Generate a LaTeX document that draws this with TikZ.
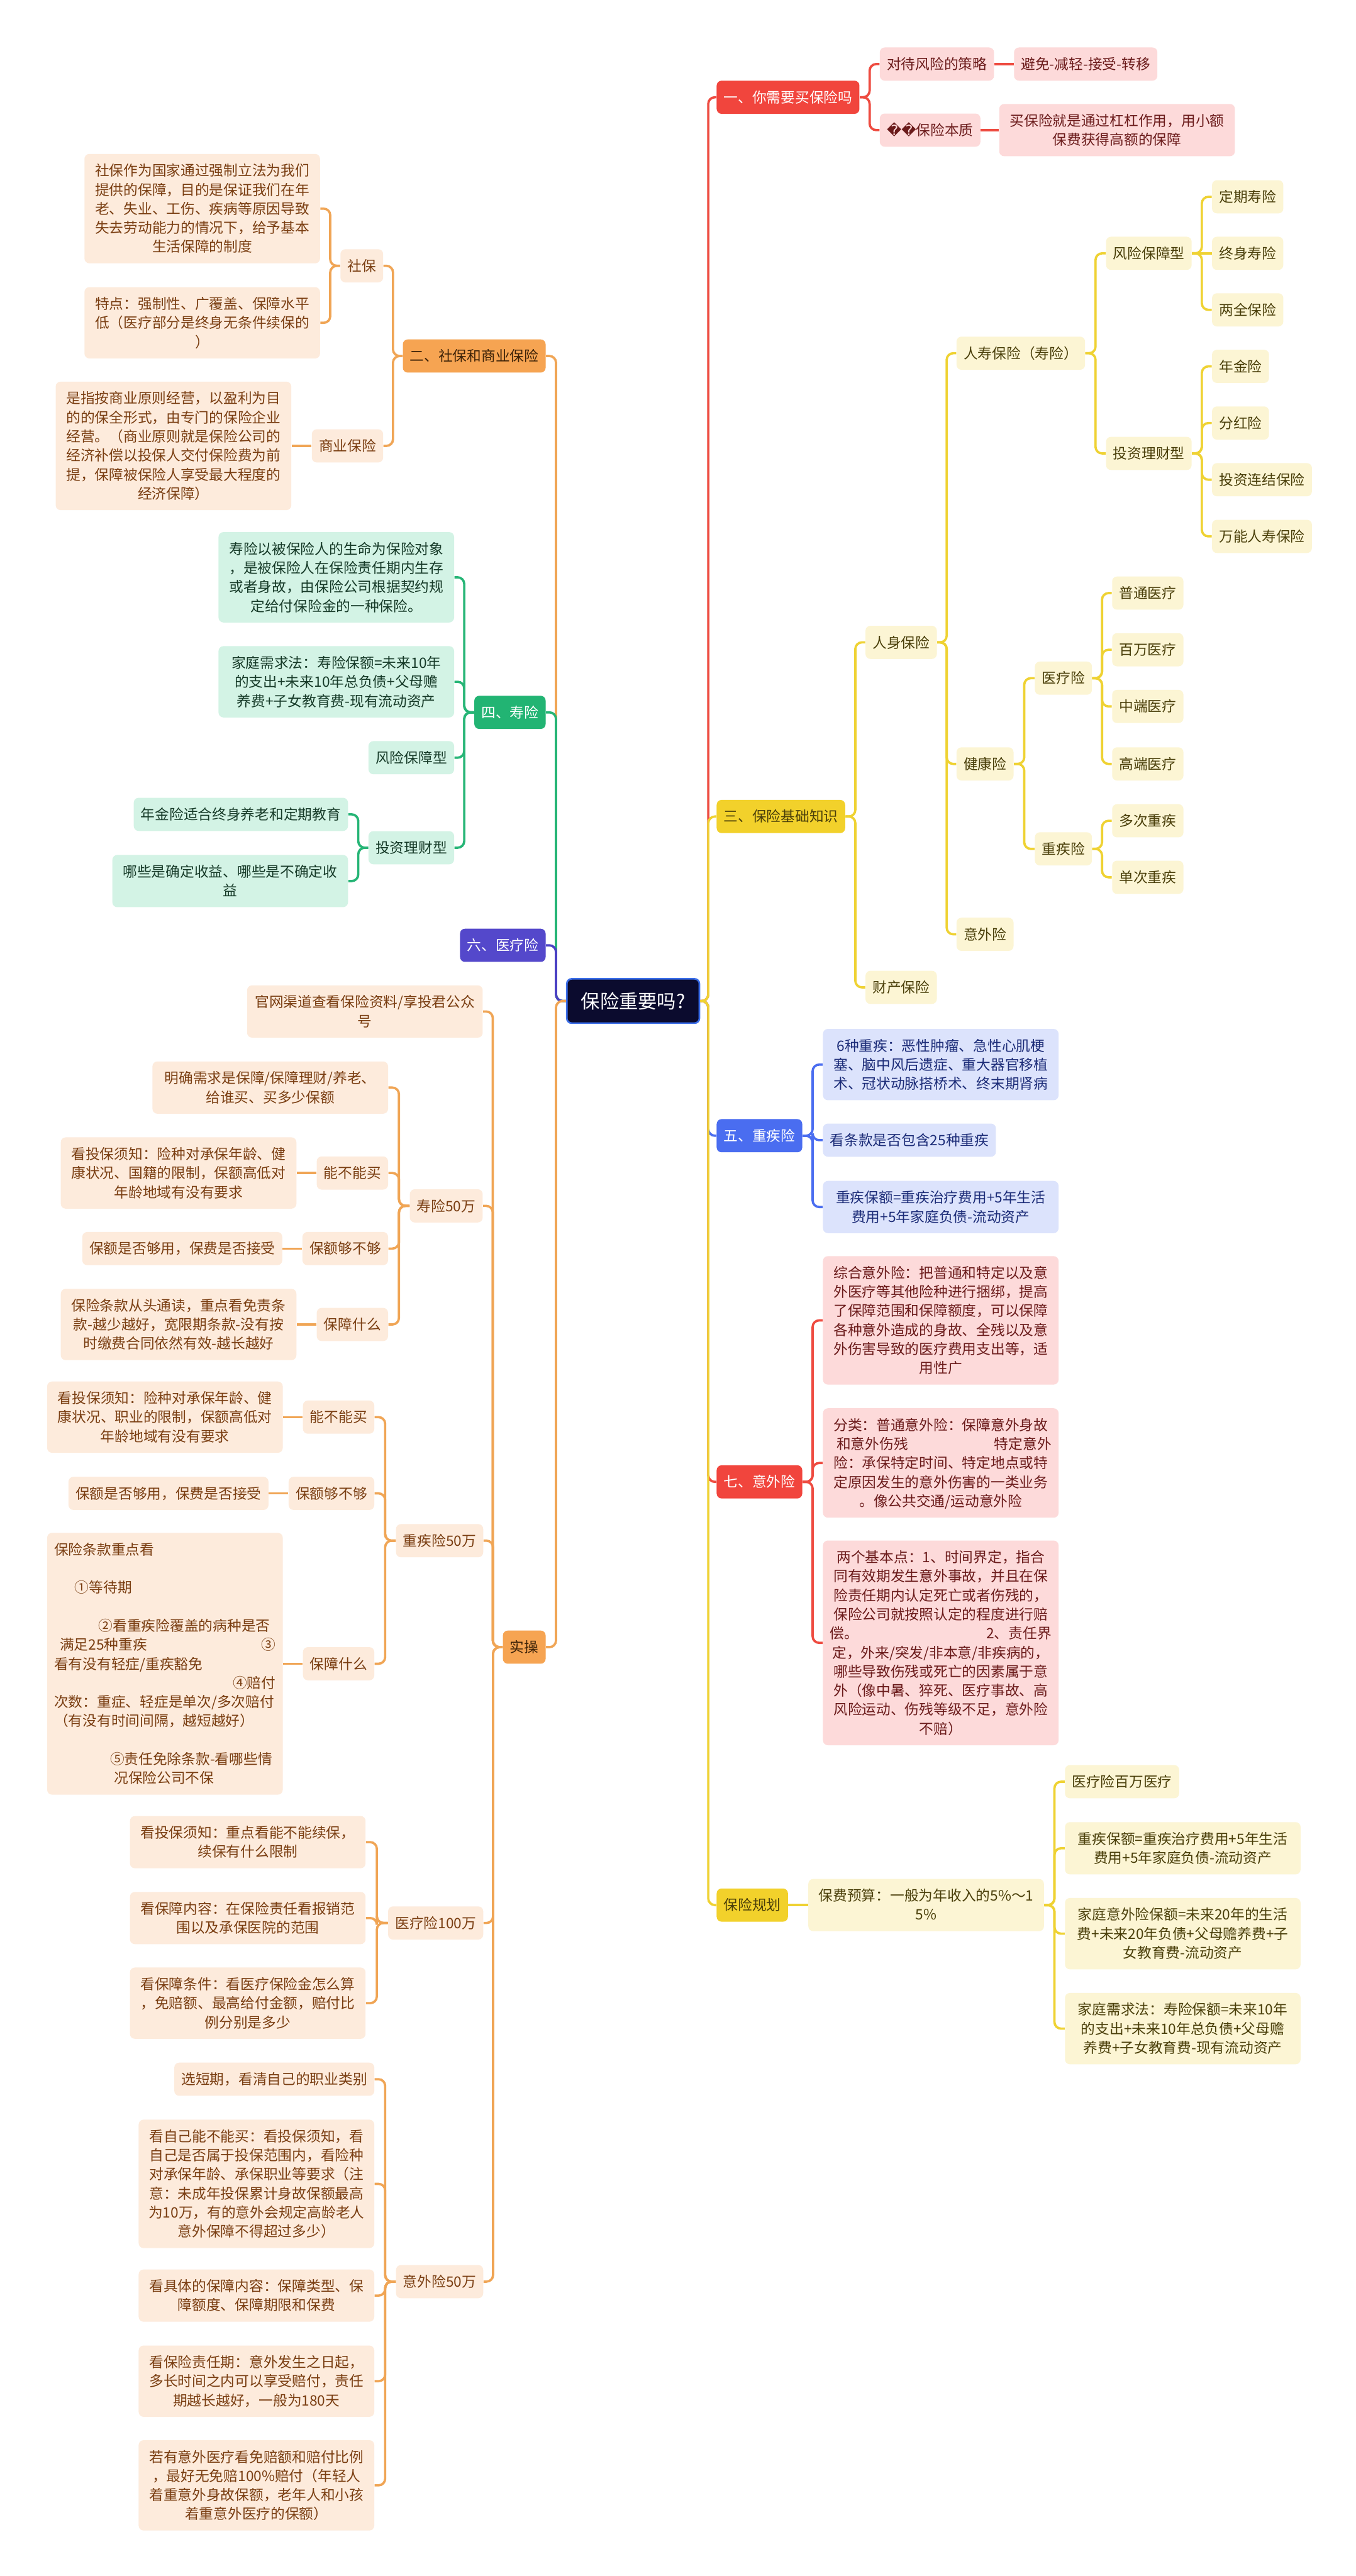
\documentclass[tikz,border=0pt]{standalone}
\usepackage{fontspec}
\setmainfont{Noto Sans CJK SC}
\newfontfamily\dejavu{DejaVu Sans}
\usetikzlibrary{calc}
\definecolor{redF}{HTML}{F1453D}
\definecolor{redL}{HTML}{EE4B40}
\definecolor{redLt}{HTML}{FDDADA}
\definecolor{redT}{HTML}{6B1B1B}
\definecolor{orgF}{HTML}{F6A452}
\definecolor{orgL}{HTML}{F0A555}
\definecolor{orgLt}{HTML}{FDEBDC}
\definecolor{orgT}{HTML}{7A3E12}
\definecolor{orgMT}{HTML}{3E2308}
\definecolor{yelF}{HTML}{F2D12B}
\definecolor{yelL}{HTML}{EFD233}
\definecolor{yelLt}{HTML}{FCF5D4}
\definecolor{yelT}{HTML}{4A3F0A}
\definecolor{grnF}{HTML}{22B473}
\definecolor{grnL}{HTML}{26B576}
\definecolor{grnLt}{HTML}{D3F3E5}
\definecolor{grnT}{HTML}{163A28}
\definecolor{bluF}{HTML}{4A6DF0}
\definecolor{bluL}{HTML}{4A6DF0}
\definecolor{bluLt}{HTML}{DCE3FC}
\definecolor{bluT}{HTML}{1C2C78}
\definecolor{purF}{HTML}{5448CB}
\definecolor{purL}{HTML}{4A40C4}
\definecolor{rootF}{HTML}{0B0B2E}
\definecolor{rootB}{HTML}{3A6DE8}
\newcommand\mystrut{\rule[-2.5pt]{0pt}{11.6pt}}
\newcommand\myR[3]{\draw[#3] let \p1=(#1.east), \p2=(#2.west) in (\p1) -- ({(\x1+\x2)/2},\y1) |- (\p2);}
\newcommand\myL[3]{\draw[#3] let \p1=(#1.west), \p2=(#2.east) in (\p1) -- ({(\x1+\x2)/2},\y1) |- (\p2);}
\newcommand\mySR[3]{\draw[#3] (#1.east) -- (#2.west);}
\newcommand\mySL[3]{\draw[#3] (#1.west) -- (#2.east);}
\tikzset{
 box/.style={rounded corners=3pt, inner xsep=4.3pt, inner ysep=4.3pt,
   font=\fontsize{8.7}{11.6}\selectfont, execute at begin node=\mystrut,
   execute at end node=\mystrut, align=center},
 wide/.style={text width=134.8pt},
 red1/.style={box, fill=redF, text=white},
 red2/.style={box, fill=redLt, text=redT},
 org1/.style={box, fill=orgF, text=orgMT},
 org2/.style={box, fill=orgLt, text=orgT},
 yel1/.style={box, fill=yelF, text=yelT},
 yel2/.style={box, fill=yelLt, text=yelT},
 grn1/.style={box, fill=grnF, text=white},
 grn2/.style={box, fill=grnLt, text=grnT},
 blu1/.style={box, fill=bluF, text=white},
 blu2/.style={box, fill=bluLt, text=bluT},
 pur1/.style={box, fill=purF, text=white},
 root/.style={rounded corners=3pt, fill=rootF, draw=rootB, line width=1pt, text=white,
   minimum width=80.7pt, minimum height=27pt, inner sep=2pt, font=\fontsize{11.6}{14}\selectfont},
 cn/.style={line width=1.4pt, rounded corners=4pt},
 lred/.style={cn, draw=redL}, lorg/.style={cn, draw=orgL}, lyel/.style={cn, draw=yelL},
 lgrn/.style={cn, draw=grnL}, lblu/.style={cn, draw=bluL}, lpur/.style={cn, draw=purL},
}
\begin{document}
\begin{tikzpicture}[x=1pt,y=-1pt]
\fill[white] (0,0) rectangle (825,1568);
\useasboundingbox (0,0) rectangle (825,1568);

\node[root] (root) at (385.35,609.3) {保险重要吗?};

% ---------- right: 一
\node[red1,anchor=west] (n1) at (436,59.2) {一、你需要买保险吗};
\node[red2,anchor=west] (n1a) at (535.3,39) {对待风险的策略};
\node[red2,anchor=west] (n1a1) at (617,39) {避免-减轻-接受-转移};
\node[red2,anchor=west] (n1b) at (535.3,79.2) {{\dejavu ^^^^fffd^^^^fffd}保险本质};
\node[red2,wide,anchor=west] (n1b1) at (608,79.2) {买保险就是通过杠杠作用，用小额\\保费获得高额的保障};

% ---------- right: 三
\node[yel1,anchor=west] (n3) at (436,497) {三、保险基础知识};
\node[yel2,anchor=west] (rs) at (526.6,391) {人身保险};
\node[yel2,anchor=west] (cc) at (526.6,601) {财产保险};
\node[yel2,anchor=west] (rsb) at (582,215) {人寿保险（寿险）};
\node[yel2,anchor=west] (jk) at (582,465) {健康险};
\node[yel2,anchor=west] (yw) at (582,568.7) {意外险};
\node[yel2,anchor=west] (fx) at (673,154.2) {风险保障型};
\node[yel2,anchor=west] (tz) at (673,276) {投资理财型};
\node[yel2,anchor=west] (dq) at (737.5,119.8) {定期寿险};
\node[yel2,anchor=west] (zs) at (737.5,154.2) {终身寿险};
\node[yel2,anchor=west] (lq) at (737.5,188.6) {两全保险};
\node[yel2,anchor=west] (nj) at (737.5,223) {年金险};
\node[yel2,anchor=west] (fh) at (737.5,257.5) {分红险};
\node[yel2,anchor=west] (tl) at (737.5,292) {投资连结保险};
\node[yel2,anchor=west] (wn) at (737.5,326.5) {万能人寿保险};
\node[yel2,anchor=west] (yl) at (629.7,412.8) {医疗险};
\node[yel2,anchor=west] (zj) at (629.7,516.7) {重疾险};
\node[yel2,anchor=west] (pt) at (676.7,361) {普通医疗};
\node[yel2,anchor=west] (bw) at (676.7,395.5) {百万医疗};
\node[yel2,anchor=west] (zd) at (676.7,430) {中端医疗};
\node[yel2,anchor=west] (gd) at (676.7,465) {高端医疗};
\node[yel2,anchor=west] (dc) at (676.7,499.6) {多次重疾};
\node[yel2,anchor=west] (dcz) at (676.7,534) {单次重疾};

% ---------- right: 五
\node[blu1,anchor=west] (n5) at (436,691.3) {五、重疾险};
\node[blu2,wide,anchor=west] (n5a) at (500.7,648) {6种重疾：恶性肿瘤、急性心肌梗\\塞、脑中风后遗症、重大器官移植\\术、冠状动脉搭桥术、终末期肾病};
\node[blu2,anchor=west] (n5b) at (500.7,694) {看条款是否包含25种重疾};
\node[blu2,wide,anchor=west] (n5c) at (500.7,734.7) {重疾保额=重疾治疗费用+5年生活\\费用+5年家庭负债-流动资产};

% ---------- right: 七
\node[red1,anchor=west] (n7) at (436,902) {七、意外险};
\node[red2,wide,anchor=west] (n7a) at (500.7,803.7) {综合意外险：把普通和特定以及意\\外医疗等其他险种进行捆绑，提高\\了保障范围和保障额度，可以保障\\各种意外造成的身故、全残以及意\\外伤害导致的医疗费用支出等，适\\用性广};
\node[red2,wide,anchor=west] (n7b) at (500.7,890.5) {分类：普通意外险：保障意外身故\\\hspace*{4pt}和意外伤残\hfill 特定意外\\险：承保特定时间、特定地点或特\\定原因发生的意外伤害的一类业务\\。像公共交通/运动意外险};
\node[red2,wide,anchor=west] (n7c) at (500.7,1000) {两个基本点：1、时间界定，指合\\同有效期发生意外事故，并且在保\\险责任期内认定死亡或者伤残的，\\保险公司就按照认定的程度进行赔\\偿。\hfill 2、责任界\\定，外来/突发/非本意/非疾病的，\\哪些导致伤残或死亡的因素属于意\\外（像中暑、猝死、医疗事故、高\\风险运动、伤残等级不足，意外险\\不赔）};

% ---------- right: 保险规划
\node[yel1,anchor=west] (gh) at (436,1159.6) {保险规划};
\node[yel2,wide,anchor=west] (ys) at (491.8,1159.6) {保费预算：一般为年收入的5\%～1\\5\%};
\node[yel2,anchor=west] (g1) at (648,1084.5) {医疗险百万医疗};
\node[yel2,wide,anchor=west] (g2) at (648,1125) {重疾保额=重疾治疗费用+5年生活\\费用+5年家庭负债-流动资产};
\node[yel2,wide,anchor=west] (g3) at (648,1177) {家庭意外险保额=未来20年的生活\\费+未来20年负债+父母赡养费+子\\女教育费-流动资产};
\node[yel2,wide,anchor=west] (g4) at (648,1234.8) {家庭需求法：寿险保额=未来10年\\的支出+未来10年总负债+父母赡\\养费+子女教育费-现有流动资产};

% ---------- left: 二
\node[org1,anchor=east] (n2) at (332.3,216.7) {二、社保和商业保险};
\node[org2,anchor=east] (sb) at (233.4,161.8) {社保};
\node[org2,anchor=east] (sy) at (233.4,271.4) {商业保险};
\node[org2,wide,anchor=east] (sbt) at (195,127) {社保作为国家通过强制立法为我们\\提供的保障，目的是保证我们在年\\老、失业、工伤、疾病等原因导致\\失去劳动能力的情况下，给予基本\\生活保障的制度};
\node[org2,wide,anchor=east] (tdt) at (195,196.5) {特点：强制性、广覆盖、保障水平\\低（医疗部分是终身无条件续保的\\）};
\node[org2,wide,anchor=east] (syt) at (177.5,271.4) {是指按商业原则经营，以盈利为目\\的的保全形式，由专门的保险企业\\经营。（商业原则就是保险公司的\\经济补偿以投保人交付保险费为前\\提，保障被保险人享受最大程度的\\经济保障）};

% ---------- left: 四
\node[grn1,anchor=east] (n4) at (332.3,433.6) {四、寿险};
\node[grn2,wide,anchor=east] (s1) at (276.6,351.4) {寿险以被保险人的生命为保险对象\\，是被保险人在保险责任期内生存\\或者身故，由保险公司根据契约规\\定给付保险金的一种保险。};
\node[grn2,wide,anchor=east] (s2) at (276.6,415) {家庭需求法：寿险保额=未来10年\\的支出+未来10年总负债+父母赡\\养费+子女教育费-现有流动资产};
\node[grn2,anchor=east] (s3) at (276.6,461.2) {风险保障型};
\node[grn2,anchor=east] (s4) at (276.6,516) {投资理财型};
\node[grn2,anchor=east] (s4a) at (212,495.7) {年金险适合终身养老和定期教育};
\node[grn2,wide,anchor=east] (s4b) at (212,536.3) {哪些是确定收益、哪些是不确定收\\益};

% ---------- left: 六
\node[pur1,anchor=east] (n6) at (332.3,575.4) {六、医疗险};

% ---------- left: 实操
\node[org1,anchor=east] (sc) at (332.3,1002.6) {实操};
\node[org2,wide,anchor=east] (c0) at (294,615.7) {官网渠道查看保险资料/享投君公众\\号};
\node[org2,anchor=east] (c1) at (294,734) {寿险50万};
\node[org2,wide,anchor=east] (c1a) at (236.4,662) {明确需求是保障/保障理财/养老、\\给谁买、买多少保额};
\node[org2,anchor=east] (c1b) at (236.4,714) {能不能买};
\node[org2,wide,anchor=east] (c1b1) at (180.6,714) {看投保须知：险种对承保年龄、健\\康状况、国籍的限制，保额高低对\\年龄地域有没有要求};
\node[org2,anchor=east] (c1c) at (236.4,760) {保额够不够};
\node[org2,anchor=east] (c1c1) at (172,760) {保额是否够用，保费是否接受};
\node[org2,anchor=east] (c1d) at (236.4,806.2) {保障什么};
\node[org2,wide,anchor=east] (c1d1) at (180.6,806.2) {保险条款从头通读，重点看免责条\\款-越少越好，宽限期条款-没有按\\时缴费合同依然有效-越长越好};
\node[org2,anchor=east] (c2) at (294.3,937.8) {重疾险50万};
\node[org2,anchor=east] (c2a) at (228,862.6) {能不能买};
\node[org2,wide,anchor=east] (c2a1) at (172.3,862.6) {看投保须知：险种对承保年龄、健\\康状况、职业的限制，保额高低对\\年龄地域有没有要求};
\node[org2,anchor=east] (c2b) at (228,909) {保额够不够};
\node[org2,anchor=east] (c2b1) at (163.6,909) {保额是否够用，保费是否接受};
\node[org2,anchor=east] (c2c) at (228,1012.7) {保障什么};
\node[org2,wide,align=left,anchor=east] (c2c1) at (172.3,1012.7) {保险条款重点看\\\mbox{}\\\hspace*{12.5pt}①等待期\\\mbox{}\\\hspace*{27pt}②看重疾险覆盖的病种是否\\\hspace*{3.4pt}满足25种重疾\hfill ③\hspace*{3pt}\\看有没有轻症/重疾豁免\\\mbox{}\hfill ④赔付\\次数：重症、轻症是单次/多次赔付\\（有没有时间间隔，越短越好）\\\mbox{}\\\hspace*{34pt}⑤责任免除条款-看哪些情\\\hspace*{36.4pt}况保险公司不保};
\node[org2,anchor=east] (c3) at (294.3,1170.5) {医疗险100万};
\node[org2,wide,anchor=east] (c3a) at (222.7,1121.3) {看投保须知：重点看能不能续保，\\续保有什么限制};
\node[org2,wide,anchor=east] (c3b) at (222.7,1167.5) {看保障内容：在保险责任看报销范\\围以及承保医院的范围};
\node[org2,wide,anchor=east] (c3c) at (222.7,1219.3) {看保障条件：看医疗保险金怎么算\\，免赔额、最高给付金额，赔付比\\例分别是多少};
\node[org2,anchor=east] (c4) at (294.3,1388.8) {意外险50万};
\node[org2,anchor=east] (c4a) at (228,1265.6) {选短期，看清自己的职业类别};
\node[org2,wide,anchor=east] (c4b) at (228,1329.3) {看自己能不能买：看投保须知，看\\自己是否属于投保范围内，看险种\\对承保年龄、承保职业等要求（注\\意：未成年投保累计身故保额最高\\为10万，有的意外会规定高龄老人\\意外保障不得超过多少）};
\node[org2,wide,anchor=east] (c4c) at (228,1397.3) {看具体的保障内容：保障类型、保\\障额度、保障期限和保费};
\node[org2,wide,anchor=east] (c4d) at (228,1449.4) {看保险责任期：意外发生之日起，\\多长时间之内可以享受赔付，责任\\期越长越好，一般为180天};
\node[org2,wide,anchor=east] (c4e) at (228,1512.8) {若有意外医疗看免赔额和赔付比例\\，最好无免赔100\%赔付（年轻人\\着重意外身故保额，老年人和小孩\\着重意外医疗的保额）};

% ---------- connectors right
\myR{root}{n1}{lred}
\myR{root}{n5}{lblu}
\myR{root}{n7}{lred}
\myR{root}{n3}{lyel}
\myR{root}{gh}{lyel}
\myR{n1}{n1a}{lred}
\myR{n1}{n1b}{lred}
\mySR{n1a}{n1a1}{lred}
\mySR{n1b}{n1b1}{lred}
\myR{n3}{rs}{lyel}
\myR{n3}{cc}{lyel}
\foreach \c in {rsb,jk,yw} {\myR{rs}{\c}{lyel}}
\foreach \c in {fx,tz} {\myR{rsb}{\c}{lyel}}
\foreach \c in {dq,lq} {\myR{fx}{\c}{lyel}}
\mySR{fx}{zs}{lyel}
\foreach \c in {nj,fh,tl,wn} {\myR{tz}{\c}{lyel}}
\foreach \c in {yl,zj} {\myR{jk}{\c}{lyel}}
\foreach \c in {pt,bw,zd,gd} {\myR{yl}{\c}{lyel}}
\foreach \c in {dc,dcz} {\myR{zj}{\c}{lyel}}
\foreach \c in {n5a,n5b,n5c} {\myR{n5}{\c}{lblu}}
\foreach \c in {n7a,n7b,n7c} {\myR{n7}{\c}{lred}}
\mySR{gh}{ys}{lyel}
\foreach \c in {g1,g2,g3,g4} {\myR{ys}{\c}{lyel}}

% ---------- connectors left
\myL{root}{n2}{lorg}
\myL{root}{n4}{lgrn}
\myL{root}{n6}{lpur}
\myL{root}{sc}{lorg}
\myL{n2}{sb}{lorg}
\myL{n2}{sy}{lorg}
\myL{sb}{sbt}{lorg}
\myL{sb}{tdt}{lorg}
\mySL{sy}{syt}{lorg}
\foreach \c in {s1,s2,s3,s4} {\myL{n4}{\c}{lgrn}}
\foreach \c in {s4a,s4b} {\myL{s4}{\c}{lgrn}}
\foreach \c in {c0,c1,c2,c3,c4} {\myL{sc}{\c}{lorg}}
\foreach \c in {c1a,c1b,c1c,c1d} {\myL{c1}{\c}{lorg}}
\mySL{c1b}{c1b1}{lorg}
\mySL{c1c}{c1c1}{lorg}
\mySL{c1d}{c1d1}{lorg}
\foreach \c in {c2a,c2b,c2c} {\myL{c2}{\c}{lorg}}
\mySL{c2a}{c2a1}{lorg}
\mySL{c2b}{c2b1}{lorg}
\mySL{c2c}{c2c1}{lorg}
\foreach \c in {c3a,c3b,c3c} {\myL{c3}{\c}{lorg}}
\foreach \c in {c4a,c4b,c4c,c4d,c4e} {\myL{c4}{\c}{lorg}}
\end{tikzpicture}
\end{document}
